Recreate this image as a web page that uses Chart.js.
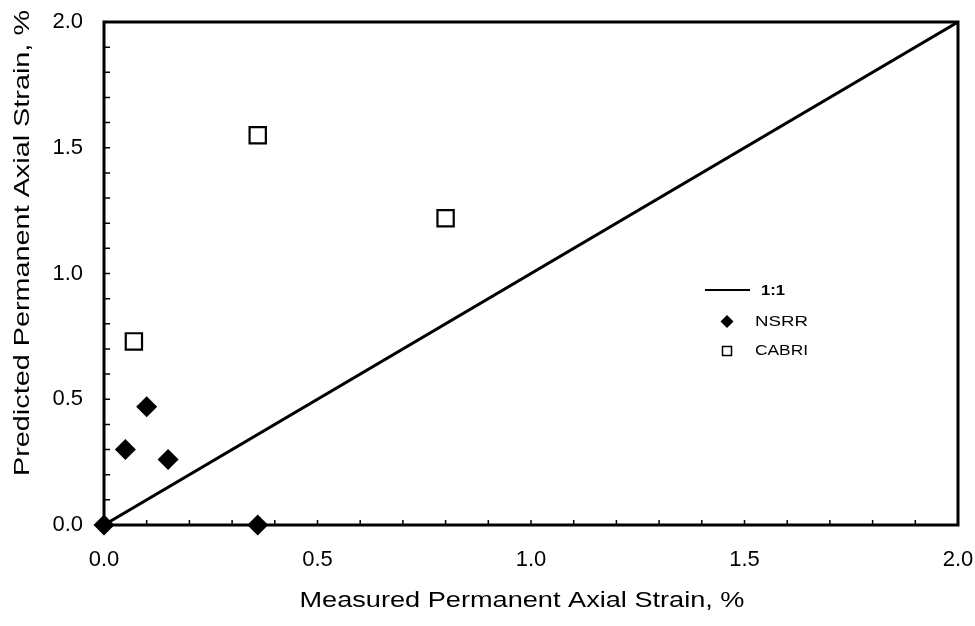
<!DOCTYPE html>
<html>
<head>
<meta charset="utf-8">
<script src="https://cdn.jsdelivr.net/npm/chart.js@4/dist/chart.umd.min.js"></script>
<style>
  html, body { margin: 0; padding: 0; background: #fff; }
  #wrap { width: 975px; height: 626px; position: relative; }
</style>
</head>
<body>
<div id="wrap"><canvas id="c"></canvas></div>
<script>
// ---- Data ----
const nsrrMeasured   = [0.00, 0.05, 0.10, 0.15, 0.36];
const nsrrPredicted  = [0.00, 0.30, 0.47, 0.26, 0.00];
const cabriMeasured  = [0.07, 0.36, 0.80];
const cabriPredicted = [0.73, 1.55, 1.22];
const oneToOneX = [0, 2];
const oneToOneY = [0, 2];
const xTickLabels = ['0.0', '0.5', '1.0', '1.5', '2.0'];
const yTickLabels = ['0.0', '0.5', '1.0', '1.5', '2.0'];
const legendLabels = ['1:1', 'NSRR', 'CABRI'];
const xTitle = 'Measured Permanent Axial Strain, %';
const yTitle = 'Predicted Permanent Axial Strain, %';

const FONT = '"Liberation Sans", Arial, Helvetica, sans-serif';

function pts(xs, ys) { return xs.map((x, i) => ({ x: x, y: ys[i] })); }

function stretchedText(ctx, text, x, y, size, target, align, weight) {
  ctx.save();
  ctx.font = (weight || 'normal') + ' ' + size + 'px ' + FONT;
  const w = ctx.measureText(text).width;
  const s = target ? target / w : 1.2;
  ctx.translate(x, y);
  ctx.scale(s, 1);
  ctx.textAlign = align || 'left';
  ctx.textBaseline = 'middle';
  ctx.fillStyle = '#000';
  ctx.fillText(text, 0, 0);
  ctx.restore();
}

const framePlugin = {
  id: 'framePlugin',
  afterDraw(chart) {
    const ctx = chart.ctx;
    const a = chart.chartArea;
    const xs = chart.scales.x, ys = chart.scales.y;
    ctx.save();
    // frame
    ctx.strokeStyle = '#000';
    ctx.lineWidth = 3;
    ctx.strokeRect(a.left, a.top, a.right - a.left, a.bottom - a.top);
    // inward ticks every 0.1
    ctx.lineWidth = 1.5;
    ctx.beginPath();
    for (let i = 1; i < 20; i++) {
      const v = i / 10;
      const px = xs.getPixelForValue(v);
      ctx.moveTo(px, a.bottom);
      ctx.lineTo(px, a.bottom - 5);
      const py = ys.getPixelForValue(v);
      ctx.moveTo(a.left, py);
      ctx.lineTo(a.left + 6, py);
    }
    ctx.stroke();
    ctx.restore();

    // axis titles
    stretchedText(ctx, xTitle, 522, 601, 22, 445, 'center');
    ctx.save();
    ctx.translate(23, 243);
    ctx.rotate(-Math.PI / 2);
    stretchedText(ctx, yTitle, 0, 0, 22, 466, 'center');
    ctx.restore();

    // legend
    ctx.save();
    ctx.strokeStyle = '#000';
    ctx.lineWidth = 2;
    ctx.beginPath();
    ctx.moveTo(705, 290);
    ctx.lineTo(750, 290);
    ctx.stroke();
    stretchedText(ctx, legendLabels[0], 761, 291, 14, 24, 'left', 'bold');
    // diamond
    ctx.fillStyle = '#000';
    ctx.beginPath();
    ctx.moveTo(727, 315); ctx.lineTo(733.5, 321.5); ctx.lineTo(727, 328); ctx.lineTo(720.5, 321.5);
    ctx.closePath();
    ctx.fill();
    stretchedText(ctx, legendLabels[1], 755, 322, 14, 53, 'left');
    // square
    ctx.lineWidth = 1.5;
    ctx.strokeRect(722.5, 346.5, 9, 9);
    stretchedText(ctx, legendLabels[2], 755, 351, 14, 53, 'left');
    ctx.restore();
  }
};

new Chart(document.getElementById('c'), {
  data: {
    datasets: [
      {
        type: 'scatter',
        label: legendLabels[1],
        data: pts(nsrrMeasured, nsrrPredicted),
        pointStyle: 'rectRot',
        pointRadius: 10.5,
        pointHoverRadius: 10.5,
        backgroundColor: '#000',
        borderColor: '#000',
        borderWidth: 0,
        clip: false,
        order: 1
      },
      {
        type: 'scatter',
        label: legendLabels[2],
        data: pts(cabriMeasured, cabriPredicted),
        pointStyle: 'rect',
        pointRadius: 11.5,
        pointHoverRadius: 11.5,
        backgroundColor: '#fff',
        borderColor: '#000',
        borderWidth: 2.2,
        clip: false,
        order: 1
      },
      {
        type: 'line',
        label: legendLabels[0],
        data: pts(oneToOneX, oneToOneY),
        borderColor: '#000',
        borderWidth: 3,
        pointRadius: 0,
        fill: false,
        tension: 0,
        order: 5
      }
    ]
  },
  options: {
    responsive: true,
    maintainAspectRatio: false,
    animation: false,
    devicePixelRatio: 1,
    layout: { padding: { top: 22, right: 17, left: 0, bottom: 0 } },
    plugins: {
      legend: { display: false },
      tooltip: { enabled: false },
      title: { display: false }
    },
    scales: {
      x: {
        type: 'linear',
        position: 'bottom',
        min: 0, max: 2,
        grid: { display: false },
        border: { display: false },
        ticks: {
          stepSize: 0.5,
          color: '#000',
          font: { family: FONT, size: 22 },
          padding: 14,
          maxRotation: 0,
          callback: (v, i) => xTickLabels[i]
        },
        title: { display: false, text: xTitle },
        afterFit: (s) => { s.height = 101; s.paddingLeft = 0; s.paddingRight = 0; }
      },
      y: {
        type: 'linear',
        position: 'left',
        min: 0, max: 2,
        grid: { display: false },
        border: { display: false },
        ticks: {
          stepSize: 0.5,
          color: '#000',
          font: { family: FONT, size: 22 },
          padding: 13,
          callback: (v, i) => yTickLabels[i]
        },
        title: { display: false, text: yTitle },
        afterFit: (s) => { s.width = 104; s.paddingTop = 0; s.paddingBottom = 0; }
      }
    }
  },
  plugins: [framePlugin]
});
</script>
</body>
</html>
